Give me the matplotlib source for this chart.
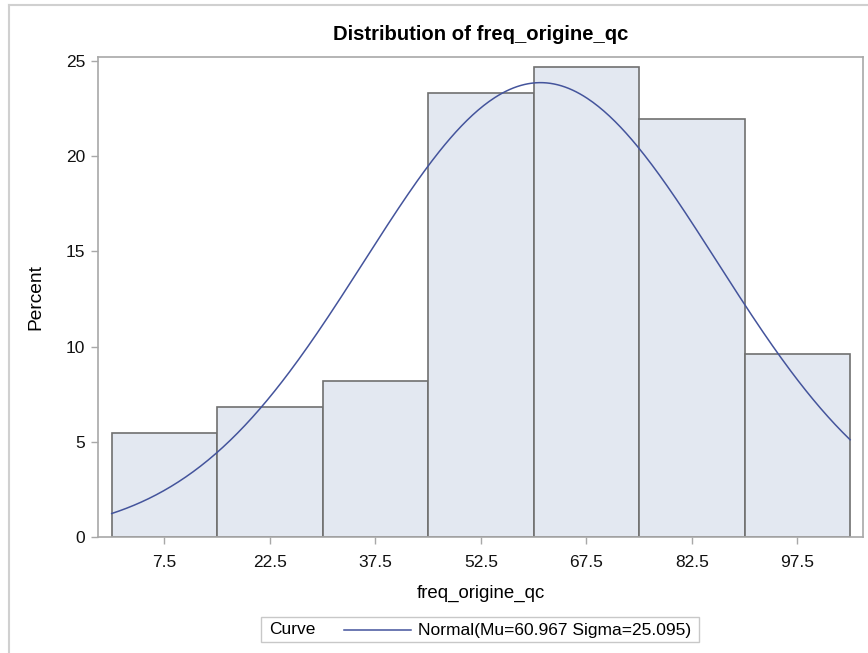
import numpy as np
import matplotlib
matplotlib.use("Agg")
import matplotlib.pyplot as plt
from matplotlib.patches import Rectangle
from matplotlib.lines import Line2D

plt.rcParams['font.family'] = ['Liberation Sans', 'DejaVu Sans']

# Histogram of freq_origine_qc (percent per bin)
bin_midpoints = [7.5, 22.5, 37.5, 52.5, 67.5, 82.5, 97.5]
percents = [5.48, 6.85, 8.22, 23.29, 24.66, 21.92, 9.59]
bin_width = 15.0

# Fitted normal curve parameters
mu = 60.967
sigma = 25.095

y_ticks = [0, 5, 10, 15, 20, 25]

fig = plt.figure(figsize=(8.68, 6.53), dpi=100)
ax = fig.add_axes([0.1129, 0.1772, 0.8813, 0.7355])

ax.bar(bin_midpoints, percents, width=bin_width, color='#E3E8F1',
       edgecolor='#707070', linewidth=1.2, zorder=2)

xs = np.linspace(0, 105, 400)
pdf = np.exp(-0.5 * ((xs - mu) / sigma) ** 2) / (sigma * np.sqrt(2 * np.pi))
curve = pdf * bin_width * 100
ax.plot(xs, curve, color='#44549C', linewidth=1.1, zorder=3)

ax.set_xlim(-1.95, 106.83)
ax.set_ylim(0, 25.19)
ax.set_xticks(bin_midpoints)
ax.set_xticklabels([f"{v:g}" for v in bin_midpoints])
ax.set_yticks(y_ticks)

for s in ax.spines.values():
    s.set_color('#A8A8A8')
    s.set_linewidth(1.2)
ax.tick_params(axis='both', direction='out', length=5, width=1,
               color='#A8A8A8', labelsize=12.5, labelcolor='#111111')
ax.tick_params(axis='x', pad=8)
ax.tick_params(axis='y', pad=4)

ax.set_xlabel('freq_origine_qc', fontsize=13.4)
ax.xaxis.set_label_coords(0.5, -0.116)
ax.xaxis.label.set_va('center')
ax.set_ylabel('Percent', fontsize=13.8)
ax.yaxis.set_label_coords(-0.081, 0.501)
ax.yaxis.label.set_va('center')
ax.set_title('Distribution of freq_origine_qc', fontsize=14.6, fontweight='bold', pad=12.5)

# Legend box drawn below the plot area
W, H = 868, 653
def fx(px):
    return px / W
def fy(py):
    return 1 - py / H

fig.patches.append(Rectangle((fx(261), fy(642)), fx(699) - fx(261), fy(617) - fy(642),
                             transform=fig.transFigure, facecolor='white',
                             edgecolor='#C8C8C8', linewidth=1.0))
fig.text(fx(269), fy(630), 'Curve', fontsize=12.5, va='center', ha='left')
fig.lines.append(Line2D([fx(344), fx(411)], [fy(630), fy(630)],
                        transform=fig.transFigure, color='#44549C', linewidth=1.1))
fig.text(fx(418), fy(630), f'Normal(Mu={mu:.3f} Sigma={sigma:.3f})',
         fontsize=12.5, va='center', ha='left')

# Outer frame lines
fig.lines.append(Line2D([fx(8.5), fx(8.5)], [fy(5), 0], transform=fig.transFigure,
                        color='#D0D0D0', linewidth=1.5))
fig.lines.append(Line2D([fx(8.5), 1], [fy(5), fy(5)], transform=fig.transFigure,
                        color='#D0D0D0', linewidth=1.5))

fig.savefig('out.png', dpi=100)
